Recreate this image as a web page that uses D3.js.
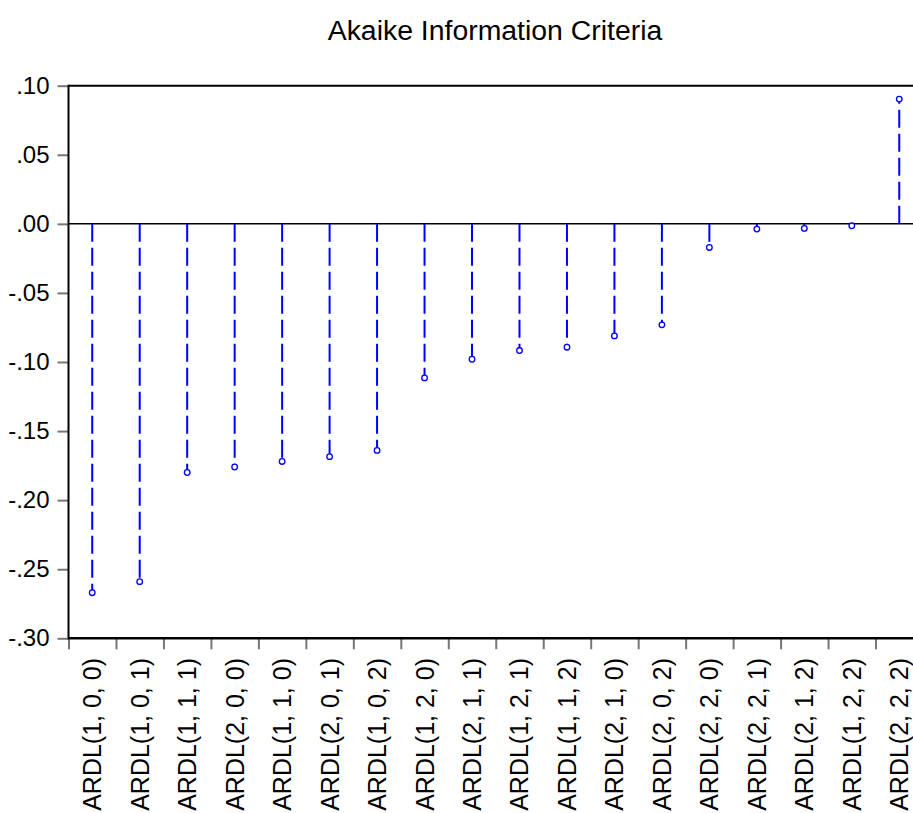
<!DOCTYPE html>
<html>
<head>
<meta charset="utf-8">
<script src="https://cdn.jsdelivr.net/npm/d3@7/dist/d3.min.js"></script>
<style>
  html, body { margin: 0; padding: 0; background: #fff; }
  svg { display: block; font-family: "Liberation Sans", Arial, sans-serif; }
</style>
</head>
<body>
<svg id="chart" width="913" height="813"></svg>
<script>
const title = "Akaike Information Criteria";
const categories = [
  "ARDL(1, 0, 0)", "ARDL(1, 0, 1)", "ARDL(1, 1, 1)", "ARDL(2, 0, 0)",
  "ARDL(1, 1, 0)", "ARDL(2, 0, 1)", "ARDL(1, 0, 2)", "ARDL(1, 2, 0)",
  "ARDL(2, 1, 1)", "ARDL(1, 2, 1)", "ARDL(1, 1, 2)", "ARDL(2, 1, 0)",
  "ARDL(2, 0, 2)", "ARDL(2, 2, 0)", "ARDL(2, 2, 1)", "ARDL(2, 1, 2)",
  "ARDL(1, 2, 2)", "ARDL(2, 2, 2)"
];
const values = [
  -0.267, -0.259, -0.180, -0.176, -0.172, -0.1685, -0.164, -0.1115,
  -0.098, -0.0917, -0.0893, -0.0811, -0.0731, -0.0171, -0.0038, -0.0033,
  -0.0014, 0.0903
];
const yTicks = [0.10, 0.05, 0.00, -0.05, -0.10, -0.15, -0.20, -0.25, -0.30];
const yTickLabels = [".10", ".05", ".00", "-.05", "-.10", "-.15", "-.20", "-.25", "-.30"];

const svg = d3.select("#chart");
const mLeft = 68.5, mTop = 85.7, mBottom = 638.3, mRight = 923;

const x = d3.scaleBand().domain(categories).range([mLeft, mRight]).padding(0);
const xEdge = d3.scaleLinear().domain([0, categories.length]).range([mLeft, mRight]);
const y = d3.scaleLinear().domain([-0.30, 0.10]).range([mBottom, mTop]);

// Title
svg.append("text")
  .attr("x", 495).attr("y", 40)
  .attr("text-anchor", "middle")
  .attr("font-size", 28.4)
  .attr("fill", "#000")
  .text(title);

// Y axis
const yAxis = svg.append("g")
  .attr("transform", `translate(${mLeft},0)`)
  .call(d3.axisLeft(y).tickValues(yTicks)
    .tickFormat((d, i) => yTickLabels[i]).tickSize(11).tickPadding(8));
yAxis.select(".domain").remove();
yAxis.selectAll(".tick line").attr("stroke", "#777").attr("stroke-width", 2);
yAxis.selectAll(".tick text")
  .attr("font-size", 24).attr("fill", "#000")
  .attr("font-family", "Liberation Sans, Arial, sans-serif");

// X axis ticks at band edges
const xAxis = svg.append("g")
  .attr("transform", `translate(0,${mBottom})`)
  .call(d3.axisBottom(xEdge).tickValues(d3.range(0, categories.length + 1)).tickFormat("").tickSize(11));
xAxis.select(".domain").remove();
xAxis.selectAll(".tick line").attr("stroke", "#777").attr("stroke-width", 2);

// Category labels
svg.append("g").selectAll("text")
  .data(categories)
  .join("text")
  .attr("transform", d => `translate(${x(d) + x.bandwidth() / 2},658) rotate(-90)`)
  .attr("dy", "0.36em")
  .attr("text-anchor", "end")
  .attr("font-size", 25)
  .attr("font-family", "Liberation Sans, Arial, sans-serif")
  .attr("fill", "#000")
  .text(d => d);

// Frame lines
svg.append("line").attr("x1", mLeft).attr("x2", 913).attr("y1", mTop).attr("y2", mTop)
  .attr("stroke", "#000").attr("stroke-width", 2);
svg.append("line").attr("x1", mLeft).attr("x2", 913).attr("y1", mBottom).attr("y2", mBottom)
  .attr("stroke", "#000").attr("stroke-width", 2.5);
svg.append("line").attr("x1", mLeft).attr("x2", mLeft).attr("y1", mTop - 1).attr("y2", mBottom + 1)
  .attr("stroke", "#000").attr("stroke-width", 2);
// Zero line
svg.append("line").attr("x1", mLeft).attr("x2", 913).attr("y1", y(0)).attr("y2", y(0))
  .attr("stroke", "#000").attr("stroke-width", 1.5);

// Stems
const data = categories.map((c, i) => ({ c, v: values[i] }));
svg.append("g").selectAll("line")
  .data(data)
  .join("line")
  .attr("x1", d => x(d.c) + x.bandwidth() / 2)
  .attr("x2", d => x(d.c) + x.bandwidth() / 2)
  .attr("y1", y(0))
  .attr("y2", d => y(d.v))
  .attr("stroke", "#0000ff")
  .attr("stroke-width", 2)
  .attr("stroke-dasharray", "18,6");

// Points
svg.append("g").selectAll("circle")
  .data(data)
  .join("circle")
  .attr("cx", d => x(d.c) + x.bandwidth() / 2)
  .attr("cy", d => y(d.v))
  .attr("r", 2.8)
  .attr("fill", "#fff")
  .attr("stroke", "#0000ff")
  .attr("stroke-width", 1.3);
</script>
</body>
</html>
